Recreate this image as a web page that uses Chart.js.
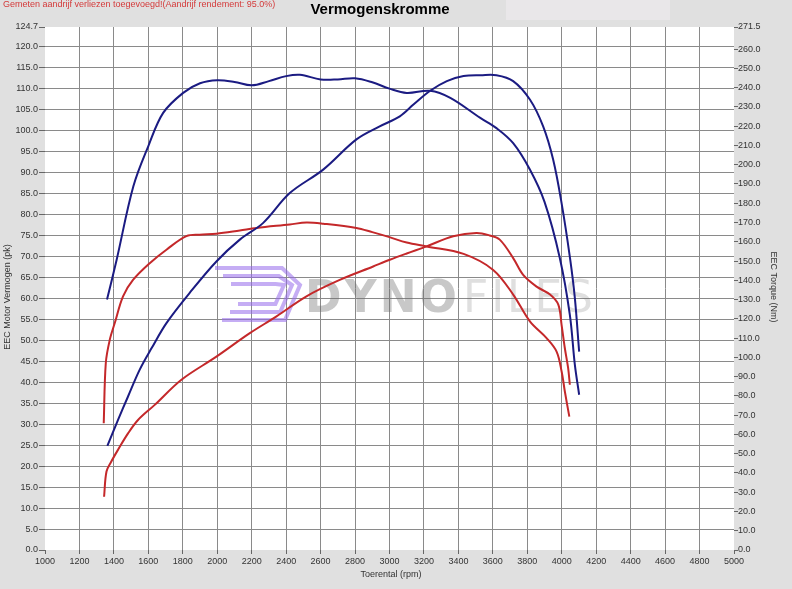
<!DOCTYPE html>
<html>
<head>
<meta charset="utf-8">
<title>Vermogenskromme</title>
<script src="https://cdn.jsdelivr.net/npm/chart.js@4/dist/chart.umd.min.js"></script>
<style>
  html, body { margin: 0; padding: 0; background: #e0e0e0; }
  canvas { display: block; }
</style>
</head>
<body>
<canvas id="dynoChart" width="792" height="589"></canvas>
<script>
// Axis ticks
const rpmTicks = [1000, 1200, 1400, 1600, 1800, 2000, 2200, 2400, 2600, 2800, 3000,
  3200, 3400, 3600, 3800, 4000, 4200, 4400, 4600, 4800, 5000];
const powerTicks = [0, 5, 10, 15, 20, 25, 30, 35, 40, 45, 50, 55, 60, 65, 70, 75, 80,
  85, 90, 95, 100, 105, 110, 115, 120, 124.7];
const torqueTicks = [0, 10, 20, 30, 40, 50, 60, 70, 80, 90, 100, 110, 120, 130, 140,
  150, 160, 170, 180, 190, 200, 210, 220, 230, 240, 250, 260, 271.5];

// Blue run - power (pk)
const bluePowerRpm = [1362, 1424, 1482, 1550, 1620, 1705, 1840, 1995, 2131, 2267, 2421,
  2615, 2808, 2943, 3060, 3139, 3236, 3333, 3430, 3530, 3621, 3718, 3815, 3892, 3950,
  3999, 4048, 4076, 4101];
const bluePower = [24.8, 31.0, 36.6, 43.0, 48.2, 54.1, 61.3, 68.8, 74.0, 78.0, 85.1,
  90.7, 97.9, 101.0, 103.4, 106.2, 109.5, 111.8, 113.0, 113.2, 113.2, 111.8, 107.4,
  101.0, 93.1, 82.7, 69.6, 60.1, 47.3];

// Blue run - torque (Nm)
const blueTorqueRpm = [1360, 1416, 1513, 1600, 1686, 1802, 1900, 2000, 2100, 2200, 2300,
  2400, 2480, 2600, 2700, 2800, 2900, 3000, 3100, 3236, 3353, 3527, 3621, 3718, 3815,
  3900, 3989, 4047, 4076, 4101];
const blueTorque = [130.0, 150.7, 188.8, 209.7, 226.9, 237.3, 242.3, 243.9, 243.0, 241.2,
  243.4, 246.0, 246.7, 244.3, 244.3, 244.9, 242.8, 239.5, 237.3, 238.4, 234.7, 224.3,
  219.0, 211.2, 197.5, 180.7, 151.5, 122.1, 96.2, 80.6];

// Red run - power (pk)
const redPowerRpm = [1343, 1357, 1385, 1424, 1482, 1540, 1637, 1792, 1995, 2189, 2344,
  2518, 2711, 2905, 3002, 3100, 3215, 3370, 3505, 3582, 3640, 3718, 3776, 3854, 3932,
  3980, 3999, 4018, 4037, 4047];
const redPower = [12.7, 18.7, 21.1, 23.9, 27.8, 31.0, 34.6, 40.6, 46.1, 51.7, 55.7,
  60.5, 64.4, 67.6, 69.2, 70.7, 72.4, 74.8, 75.6, 75.0, 74.0, 69.6, 65.6, 62.8, 60.9,
  58.5, 53.7, 48.1, 43.4, 39.4];

// Red run - torque (Nm)
const redTorqueRpm = [1341, 1353, 1376, 1405, 1453, 1511, 1608, 1705, 1821, 1898, 1995,
  2131, 2228, 2421, 2518, 2615, 2808, 2900, 3000, 3100, 3216, 3430, 3602, 3718, 3815,
  3912, 3970, 3999, 4018, 4044];
const redTorque = [65.8, 97.1, 109.1, 117.8, 131.7, 140.2, 148.9, 155.9, 162.9, 163.7,
  164.2, 165.9, 167.2, 169.0, 170.0, 169.4, 167.2, 165.0, 162.4, 159.6, 157.6, 153.7,
  145.4, 132.6, 118.7, 110.0, 103.0, 92.8, 82.3, 69.2];

const BLUE = "#1b1b82";
const RED = "#c4282a";
const FONT = "'Liberation Sans', Arial, sans-serif";

const toPoints = (xs, ys) => xs.map((x, i) => ({ x: x, y: ys[i] }));

const lineStyle = {
  borderWidth: 2,
  pointRadius: 0,
  fill: false,
  tension: 0.35,
};

// Background, plot area, watermark and the loose texts
const dynoDecor = {
  id: "dynoDecor",
  beforeDraw(chart) {
    const { ctx, chartArea: a } = chart;
    ctx.save();
    ctx.fillStyle = "#e0e0e0";
    ctx.fillRect(0, 0, chart.width, chart.height);
    ctx.fillStyle = "#e9e7e9";
    ctx.fillRect(506, 0, 164, 20);
    ctx.fillStyle = "#ffffff";
    ctx.fillRect(a.left, a.top, a.right - a.left, a.bottom - a.top);
    ctx.restore();
  },
  beforeDatasetsDraw(chart) {
    const ctx = chart.ctx;
    ctx.save();
    // logo stripes
    ctx.strokeStyle = "rgba(150, 105, 235, 0.55)";
    ctx.lineWidth = 4;
    [0, 8, 16].forEach((d) => {
      ctx.beginPath();
      ctx.moveTo(215 + d, 268 + d);
      ctx.lineTo(282 - d * 0.4, 268 + d);
      ctx.lineTo(300 - d, 285);
      ctx.lineTo(285 - d * 0.6, 320 - d);
      ctx.lineTo(222 + d, 320 - d);
      ctx.stroke();
    });
    // text
    ctx.textBaseline = "alphabetic";
    ctx.font = "bold 44px 'DejaVu Sans', sans-serif";
    ctx.fillStyle = "rgba(110, 110, 110, 0.38)";
    drawSpaced(ctx, "DYNO", 305, 312, 152);
    ctx.font = "44px 'DejaVu Sans', sans-serif";
    ctx.fillStyle = "rgba(110, 110, 110, 0.22)";
    drawSpaced(ctx, "FILES", 463, 312, 130);
    ctx.restore();
  },
  afterDraw(chart) {
    const ctx = chart.ctx;
    ctx.save();
    ctx.textBaseline = "middle";

    ctx.fillStyle = "#d43a3a";
    ctx.font = "9px " + FONT;
    ctx.textAlign = "left";
    ctx.fillText("Gemeten aandrijf verliezen toegevoegd!(Aandrijf rendement: 95.0%)", 3, 5);

    ctx.fillStyle = "#000000";
    ctx.font = "bold 15px " + FONT;
    ctx.textAlign = "center";
    ctx.fillText("Vermogenskromme", 380, 10);

    ctx.fillStyle = "#333333";
    ctx.font = "9px " + FONT;
    ctx.fillText("Toerental (rpm)", 391, 575);

    ctx.save();
    ctx.translate(8, 297);
    ctx.rotate(-Math.PI / 2);
    ctx.fillText("EEC Motor Vermogen (pk)", 0, 0);
    ctx.restore();

    ctx.save();
    ctx.translate(773, 287);
    ctx.rotate(Math.PI / 2);
    ctx.fillText("EEC Torque (Nm)", 0, 0);
    ctx.restore();

    ctx.restore();
  },
};

// Draws a word stretched across a given width, letter by letter
function drawSpaced(ctx, word, x, y, width) {
  const letters = word.split("");
  const widths = letters.map((l) => ctx.measureText(l).width);
  const total = widths.reduce((s, w) => s + w, 0);
  const gap = (width - total) / (letters.length - 1);
  let cx = x;
  letters.forEach((l, i) => {
    ctx.fillText(l, cx, y);
    cx += widths[i] + gap;
  });
}

const edgeHidden = (edges) => (c) =>
  c.tick && edges.includes(c.tick.value) ? "rgba(0,0,0,0)" : "#8a8a8a";

function initDynoChart() {
  const ctx = document.getElementById("dynoChart").getContext("2d");
  new Chart(ctx, {
    type: "line",
    data: {
      datasets: [
        {
          label: "Vermogen blauw",
          data: toPoints(bluePowerRpm, bluePower),
          borderColor: BLUE,
          yAxisID: "y",
          ...lineStyle,
        },
        {
          label: "Koppel blauw",
          data: toPoints(blueTorqueRpm, blueTorque),
          borderColor: BLUE,
          yAxisID: "y2",
          ...lineStyle,
        },
        {
          label: "Vermogen rood",
          data: toPoints(redPowerRpm, redPower),
          borderColor: RED,
          yAxisID: "y",
          ...lineStyle,
        },
        {
          label: "Koppel rood",
          data: toPoints(redTorqueRpm, redTorque),
          borderColor: RED,
          yAxisID: "y2",
          ...lineStyle,
        },
      ],
    },
    options: {
      responsive: false,
      animation: false,
      layout: { padding: { top: 27, left: 0, right: 0, bottom: 0 } },
      plugins: {
        legend: { display: false },
        tooltip: { enabled: false },
      },
      scales: {
        x: {
          type: "linear",
          min: 1000,
          max: 5000,
          afterBuildTicks: (s) => { s.ticks = rpmTicks.map((v) => ({ value: v })); },
          afterFit: (s) => { s.height = 39; },
          ticks: {
            callback: (v) => String(v),
            color: "#333333",
            font: { family: FONT, size: 9 },
            padding: 2,
            maxRotation: 0,
            autoSkip: false,
          },
          grid: { color: edgeHidden([1000, 5000]), tickColor: "#666666", tickLength: 4 },
          border: { display: false },
        },
        y: {
          position: "left",
          min: 0,
          max: 124.7,
          afterBuildTicks: (s) => { s.ticks = powerTicks.map((v) => ({ value: v })); },
          afterFit: (s) => { s.width = 45; },
          ticks: {
            callback: (v) => v.toFixed(1),
            color: "#333333",
            font: { family: FONT, size: 9 },
            padding: 1,
            autoSkip: false,
          },
          grid: { color: edgeHidden([0, 124.7]), tickColor: "#666666", tickLength: 6 },
          border: { display: false },
        },
        y2: {
          position: "right",
          min: 0,
          max: 271.5,
          afterBuildTicks: (s) => { s.ticks = torqueTicks.map((v) => ({ value: v })); },
          afterFit: (s) => { s.width = 58; },
          ticks: {
            callback: (v) => v.toFixed(1),
            color: "#333333",
            font: { family: FONT, size: 9 },
            padding: 0,
            autoSkip: false,
          },
          grid: { drawOnChartArea: false, tickColor: "#666666", tickLength: 4 },
          border: { display: false },
        },
      },
    },
    plugins: [dynoDecor],
  });
}

document.addEventListener("DOMContentLoaded", () => {
  initDynoChart();
});
</script>
</body>
</html>
